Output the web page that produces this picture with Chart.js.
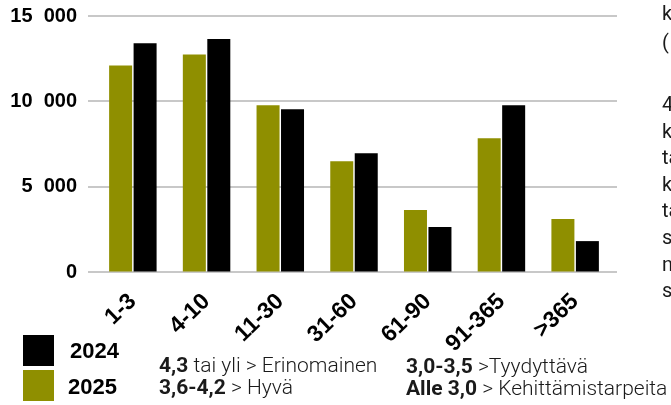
<!DOCTYPE html>
<html>
<head>
<meta charset="utf-8">
<script src="https://cdn.jsdelivr.net/npm/chart.js@4.4.1/dist/chart.umd.min.js"></script>
<style>
  html, body { margin: 0; padding: 0; background: #fff; }
  #wrap { position: relative; width: 671px; height: 405px; overflow: hidden; font-family: Roboto, "Liberation Sans", sans-serif; color: #1a1a1a; }
  #chart { position: absolute; left: 0; top: 0; }
  .sw { position: absolute; width: 31px; height: 31px; }
  .lg { position: absolute; font: bold 22px "Liberation Sans", Arial, sans-serif; color: #000; line-height: 24px; }
  .scale { position: absolute; font-size: 21px; line-height: 22px; font-weight: 300; white-space: nowrap; color: #1a1a1a; }
  .scale b { font-weight: 700; }
  .side { position: absolute; left: 662px; font-size: 20px; font-family: Roboto, sans-serif; color: #1a1a1a; white-space: nowrap; }
</style>
</head>
<body>
<div id="wrap">
  <canvas id="chart" width="671" height="405"></canvas>
  <div id="legend"></div>
  <div class="scale" style="left:159px; top:354px;">
    <div><b>4,3</b> tai yli &gt; Erinomainen</div>
    <div><b>3,6-4,2</b> &gt; Hyvä</div>
  </div>
  <div class="scale" style="left:406px; top:355px;">
    <div><b>3,0-3,5</b> &gt;Tyydyttävä</div>
    <div><b>Alle 3,0</b> &gt; Kehittämistarpeita</div>
  </div>
  <div class="side" style="top:-1px; line-height:29px;">
    <div>k</div>
    <div>(</div>
  </div>
  <div class="side" style="top:91px; line-height:26.6px;">
    <div>4</div>
    <div>k</div>
    <div>ta</div>
    <div>k</div>
    <div>ta</div>
    <div>s</div>
    <div>n</div>
    <div>s</div>
  </div>
</div>
<script>
// Handling times by duration bucket (days), two years compared
const categories = ['1-3', '4-10', '11-30', '31-60', '61-90', '91-365', '>365'];
const values2025 = [12100, 12750, 9770, 6490, 3630, 7840, 3100];
const values2024 = [13400, 13650, 9540, 6960, 2630, 9770, 1810];
const seriesNames = ['2025', '2024'];
const seriesColors = ['#8f8f00', '#000000'];
const yTicks = [0, 5000, 10000, 15000];
const yTickLabels = ['0', '5  000', '10  000', '15  000'];

// Horizontal gridlines that run slightly past both edges of the plot area
const wideGrid = {
  id: 'wideGrid',
  beforeDatasetsDraw(chart) {
    const { ctx, chartArea, scales } = chart;
    ctx.save();
    ctx.strokeStyle = '#c8c8c8';
    ctx.lineWidth = 2;
    scales.y.ticks.forEach(t => {
      const y = Math.round(scales.y.getPixelForValue(t.value));
      ctx.beginPath();
      ctx.moveTo(chartArea.left - 8, y);
      ctx.lineTo(chartArea.right + 5, y);
      ctx.stroke();
    });
    ctx.restore();
  }
};

const yFont = { family: '"Liberation Sans", Arial, sans-serif', size: 20, weight: 'bold' };
const xFont = { family: '"Liberation Sans", Arial, sans-serif', size: 23, weight: 'bold' };

const chart = new Chart(document.getElementById('chart'), {
  type: 'bar',
  data: {
    labels: categories,
    datasets: [
      { label: seriesNames[0], data: values2025, backgroundColor: seriesColors[0], categoryPercentage: 0.664, barPercentage: 0.94 },
      { label: seriesNames[1], data: values2024, backgroundColor: seriesColors[1], categoryPercentage: 0.664, barPercentage: 0.94 }
    ]
  },
  options: {
    responsive: false,
    animation: false,
    devicePixelRatio: 1,
    layout: { padding: { top: 16, right: 59, left: 0, bottom: 0 } },
    plugins: { legend: { display: false }, tooltip: { enabled: false } },
    scales: {
      x: {
        grid: { display: false, drawTicks: false },
        border: { display: false },
        ticks: { font: xFont, color: '#000', minRotation: 44, maxRotation: 44, autoSkip: false, padding: 16 },
        afterFit(s) { s.height = 133; }
      },
      y: {
        min: 0,
        max: 15000,
        afterBuildTicks(s) { s.ticks = yTicks.map(v => ({ value: v })); },
        grid: { display: true, color: 'rgba(0,0,0,0)', drawOnChartArea: false, drawTicks: true, tickLength: 19 },
        border: { display: false },
        ticks: {
          font: yFont,
          color: '#000',
          padding: 0,
          callback(v) { return yTickLabels[yTicks.indexOf(v)]; }
        },
        afterFit(s) { s.width = 96; }
      }
    }
  },
  plugins: [wideGrid]
});

// Legend stacked vertically, newest year listed first
const legend = document.getElementById('legend');
const order = [1, 0];
const boxTops = [335, 370];
const textTops = [339, 375];
const textLefts = [70, 68];
order.forEach((di, i) => {
  const ds = chart.data.datasets[di];
  const sw = document.createElement('div');
  sw.className = 'sw';
  sw.style.left = '23px';
  sw.style.top = boxTops[i] + 'px';
  sw.style.background = ds.backgroundColor;
  legend.appendChild(sw);
  const tx = document.createElement('div');
  tx.className = 'lg';
  tx.style.left = textLefts[i] + 'px';
  tx.style.top = textTops[i] + 'px';
  tx.textContent = ds.label;
  legend.appendChild(tx);
});
</script>
</body>
</html>
